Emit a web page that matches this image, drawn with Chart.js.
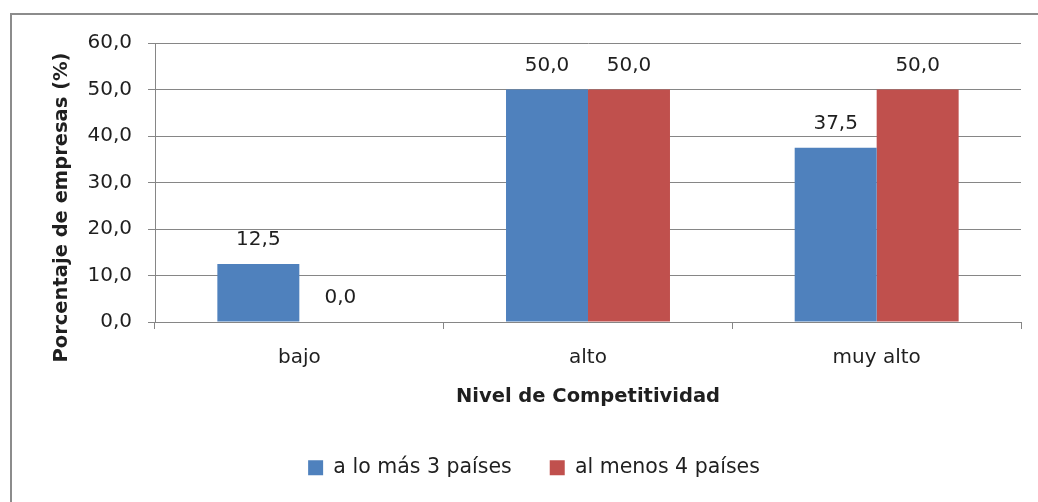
<!DOCTYPE html>
<html lang="es">
<head>
<meta charset="UTF-8" />
<title>Nivel de Competitividad</title>
<script src="https://cdn.jsdelivr.net/npm/chart.js"></script>
<style>
    body {
        margin: 0;
        background: #ffffff;
        overflow: hidden;
    }
    .frame {
        position: absolute;
        left: 10px;
        top: 13px;
        width: 1100px;
        height: 600px;
        border: 2px solid #8c8c8c;
    }
    #chart {
        position: absolute;
        left: 0;
        top: 0;
    }
</style>
</head>
<body>
<div class="frame"></div>
<canvas id="chart" width="1038" height="502"></canvas>

<script>
    const categories = ["bajo", "alto", "muy alto"];
    const seriesNames = ["a lo más 3 países", "al menos 4 países"];
    const hastaTres = [12.5, 50.0, 37.5];
    const alMenosCuatro = [0.0, 50.0, 50.0];
    const yTicks = [0, 10, 20, 30, 40, 50, 60];
    const yTitle = "Porcentaje de empresas (%)";

    const fontFamily = "'DejaVu Sans', Verdana, sans-serif";
    const textColor = "#1f1f1f";
    const lineColor = "#868686";

    // numbers are shown with a decimal comma, one decimal
    function fmt(v) {
        return v.toFixed(1).replace(".", ",");
    }

    // value labels above each bar
    const barValueLabels = {
        id: "barValueLabels",
        afterDatasetsDraw(chart) {
            const ctx = chart.ctx;
            ctx.save();
            ctx.font = "20px " + fontFamily;
            ctx.fillStyle = textColor;
            ctx.textAlign = "center";
            ctx.textBaseline = "alphabetic";
            chart.data.datasets.forEach((ds, i) => {
                chart.getDatasetMeta(i).data.forEach((bar, j) => {
                    ctx.fillText(fmt(ds.data[j]), bar.x, bar.y - 19);
                });
            });
            ctx.restore();
        }
    };

    // vertical axis title, sitting a bit below the middle of the plot
    const yAxisTitle = {
        id: "yAxisTitle",
        afterDraw(chart) {
            const ctx = chart.ctx;
            const area = chart.chartArea;
            ctx.save();
            ctx.translate(chart.scales.y.left + 15, (area.top + area.bottom) / 2 + 25);
            ctx.rotate(-Math.PI / 2);
            ctx.font = "bold 19.5px " + fontFamily;
            ctx.fillStyle = textColor;
            ctx.textAlign = "center";
            ctx.textBaseline = "middle";
            ctx.fillText(yTitle, 0, 0);
            ctx.restore();
        }
    };

    const ctx = document.getElementById("chart").getContext("2d");
    new Chart(ctx, {
        type: "bar",
        data: {
            labels: categories,
            datasets: [
                {
                    label: seriesNames[0],
                    data: hastaTres,
                    backgroundColor: "#4f81bd"
                },
                {
                    label: seriesNames[1],
                    data: alMenosCuatro,
                    backgroundColor: "#c0504d"
                }
            ]
        },
        options: {
            responsive: false,
            animation: false,
            layout: {
                padding: { left: 47, right: 17, top: 43, bottom: 14 }
            },
            datasets: {
                bar: {
                    barPercentage: 1,
                    categoryPercentage: 0.568
                }
            },
            plugins: {
                tooltip: { enabled: false },
                legend: {
                    position: "bottom",
                    labels: {
                        boxWidth: 15,
                        boxHeight: 15,
                        padding: 38,
                        color: textColor,
                        font: { family: fontFamily, size: 20.5 }
                    }
                }
            },
            scales: {
                x: {
                    grid: {
                        drawOnChartArea: false,
                        color: lineColor,
                        tickLength: 7
                    },
                    border: { color: lineColor },
                    ticks: {
                        color: textColor,
                        padding: 17,
                        font: { family: fontFamily, size: 20 }
                    },
                    title: {
                        display: true,
                        text: "Nivel de Competitividad",
                        color: textColor,
                        font: { family: fontFamily, size: 19.5, weight: "bold" },
                        padding: { top: 0, bottom: 11 }
                    },
                    afterFit(scale) {
                        scale.height = 97.5;
                    }
                },
                y: {
                    min: yTicks[0],
                    max: yTicks[yTicks.length - 1],
                    afterBuildTicks(scale) {
                        scale.ticks = yTicks.map(v => ({ value: v }));
                    },
                    grid: {
                        color: lineColor,
                        tickLength: 7
                    },
                    border: { color: lineColor },
                    ticks: {
                        color: textColor,
                        padding: 16,
                        font: { family: fontFamily, size: 20 },
                        callback: v => fmt(v)
                    },
                    afterFit(scale) {
                        scale.width = 108;
                    }
                }
            }
        },
        plugins: [barValueLabels, yAxisTitle]
    });
</script>
</body>
</html>
